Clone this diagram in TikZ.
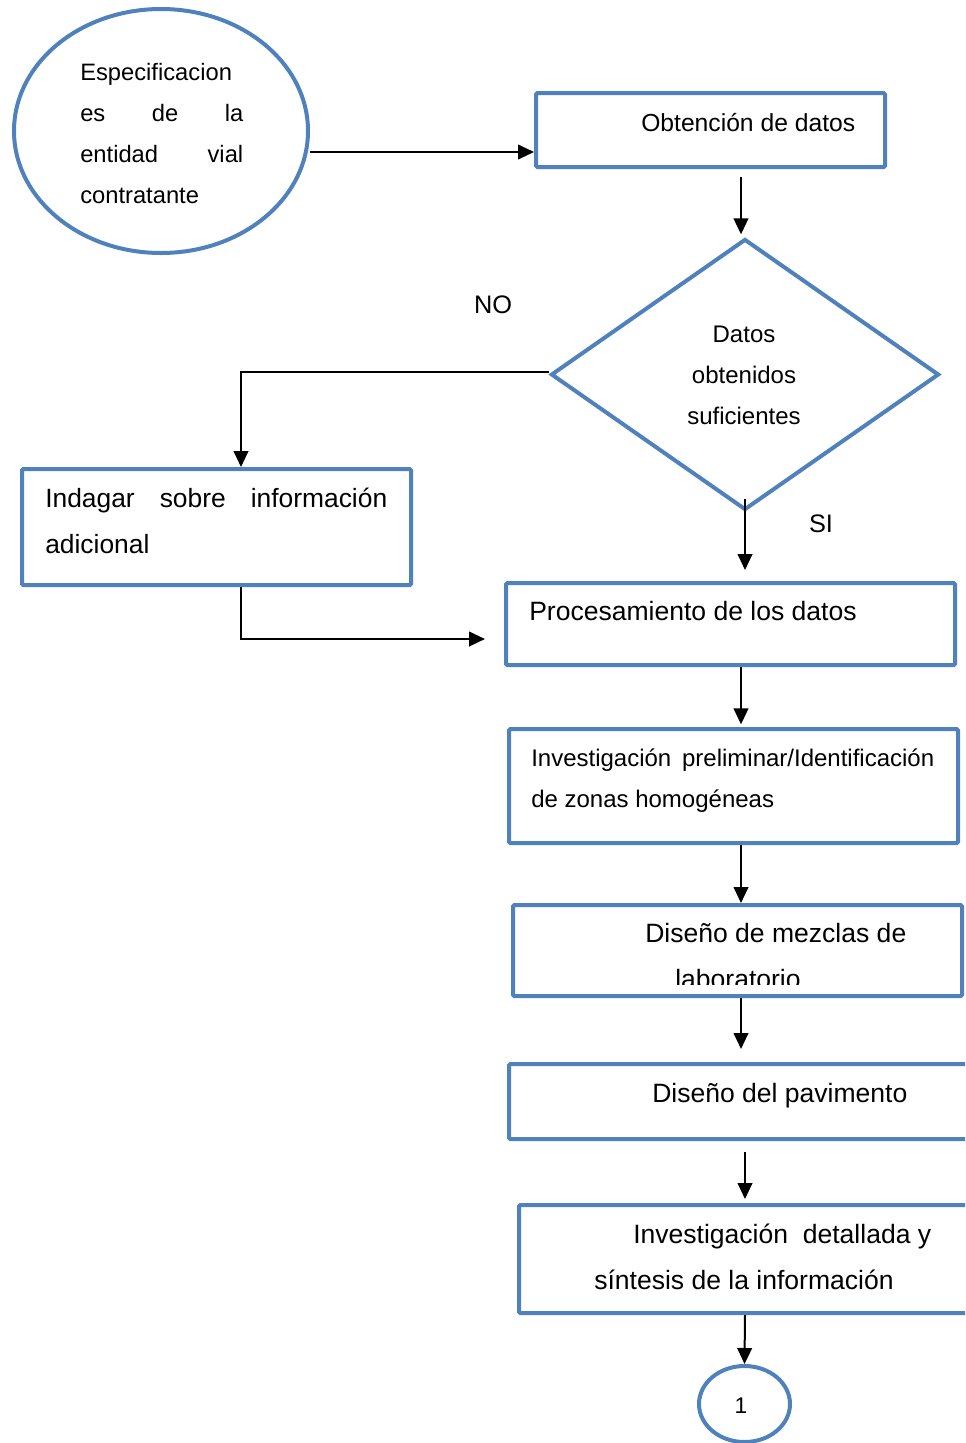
\documentclass[tikz,border=0pt]{standalone}
\usepackage{fontspec}
\setmainfont{Liberation Sans}
\usetikzlibrary{shapes.geometric,arrows.meta}
\definecolor{flowblue}{HTML}{4F81BD}
% font sizes used in the chart
\newcommand\fsEll{\fontsize{17.8}{30.75}\selectfont}
\newcommand\fsSm{\fontsize{18}{30.75}\selectfont}
\newcommand\fsMd{\fontsize{18.5}{30.75}\selectfont}
\newcommand\fsLg{\fontsize{19.9}{34.5}\selectfont}
\newcommand\fsLbl{\fontsize{19}{22}\selectfont}
\begin{document}
\begin{tikzpicture}[x=0.75pt,y=-0.75pt,
  shapeline/.style={draw=flowblue, line width=3pt},
  box/.style={shapeline, rectangle, rounded corners=1pt, inner sep=0pt},
  arr/.style={draw=black, line width=1.5pt, -{Triangle[length=12pt,width=11pt]}},
  txt/.style={anchor=base west, inner sep=0pt},
  ctxt/.style={anchor=base, inner sep=0pt},
]
\useasboundingbox (0,0) rectangle (965,1443);
\clip (0,0) rectangle (965,1443);

% ---- shapes ----
\node[shapeline, ellipse, minimum width=220.5pt, minimum height=183pt, inner sep=0pt] (ell) at (161,131) {};
\node[box, minimum width=261.75pt, minimum height=55.5pt] (obt) at (710.5,130) {};
\node[shapeline, diamond, minimum width=291pt, minimum height=203.25pt, inner sep=0pt] (dia) at (745,374.5) {};
\node[box, minimum width=291.75pt, minimum height=87pt] (ind) at (216.5,527) {};
\node[box, minimum width=336.75pt, minimum height=61.5pt] (proc) at (730.5,624) {};
\node[box, minimum width=336.75pt, minimum height=85.5pt] (inv1) at (733.5,786) {};
\node[box, minimum width=336.75pt, minimum height=68.25pt] (mez) at (737.5,950.5) {};
\node[box, minimum width=349.5pt, minimum height=56.25pt] (pav) at (742,1101.5) {};
\node[box, minimum width=342pt, minimum height=81pt] (inv2) at (747,1259) {};
\node[shapeline, ellipse, minimum width=68.25pt, minimum height=57pt, inner sep=0pt] (one) at (744.5,1404) {};

% ---- texts ----
\node[txt] (tell) at (80,80) {\parbox[t]{122.25pt}{\fsEll Especificacion\\
  \makebox[\linewidth][s]{es de la}\\
  \makebox[\linewidth][s]{entidad vial}\\
  contratante}};
\node[txt] (tobt) at (641,131) {\fsMd Obtención de datos};
\node[ctxt] (tdia) at (744,342) {\parbox[t]{150pt}{\centering\fsSm Datos\\obtenidos\\suficientes}};
\node[ctxt] (tno) at (493,313) {\fsLbl NO};
\node[ctxt] (tsi) at (821,532) {\fsLbl SI};
\node[txt] (tind) at (45,507) {\parbox[t]{256.5pt}{\fontsize{19.8}{34.5}\selectfont
  \makebox[\linewidth][s]{Indagar sobre información}\\adicional}};
\node[txt] (tproc) at (529,620) {\fsLg Procesamiento de los datos};
\node[txt] (tinv1) at (531,766) {\parbox[t]{302.25pt}{\fsSm
  \makebox[\linewidth][s]{Investigación preliminar/Identificación}\\de zonas homogéneas}};
\node[txt] (tmez) at (645,942) {\fsLg Diseño de mezclas de};
\begin{scope}
  \clip (513,900) rectangle (962,984);
  \node[txt] (tlab) at (675,988) {\fsLg laboratorio};
\end{scope}
\node[txt] (tpav) at (652,1102) {\fsLg Diseño del pavimento};
\node[txt] (tinv2a) at (633,1243) {\fsLg Investigación\ \ detallada y};
\node[txt] (tinv2b) at (594,1289) {\fsLg síntesis de la información};
\node[ctxt] (tone) at (741,1413) {\fontsize{17}{20}\selectfont 1};

% ---- connectors ----
\coordinate (colA) at (741,0);
\coordinate (colB) at (745,0);
\coordinate (colC) at (241,0);
\coordinate (procin) at (485,639);

\draw[arr] (ell.east |- 0,152) -- (obt.west |- 0,152);
\draw[arr] ([yshift=-6pt]obt.south -| colA) -- ([yshift=2pt]dia.north -| colA);
\draw[arr] ([yshift=2pt]dia.west) -| (ind.north -| colC);
\draw[arr] (ind.south -| colC) |- (procin);
\draw[arr] ([yshift=9.75pt]dia.south) -- ([yshift=8.25pt]proc.north -| dia.south);
\draw[arr] (proc.south -| colA) -- ([yshift=2pt]inv1.north -| colA);
\draw[arr] (inv1.south -| colA) -- (mez.north -| colA);
\draw[arr] (mez.south -| colA) -- ([yshift=9.75pt]pav.north -| colA);
\draw[arr] ([yshift=-8.25pt]pav.south -| colB) -- ([yshift=3pt]inv2.north -| colB);
\draw[arr] (inv2.south -| colB) -- (one.north);
\end{tikzpicture}
\end{document}
